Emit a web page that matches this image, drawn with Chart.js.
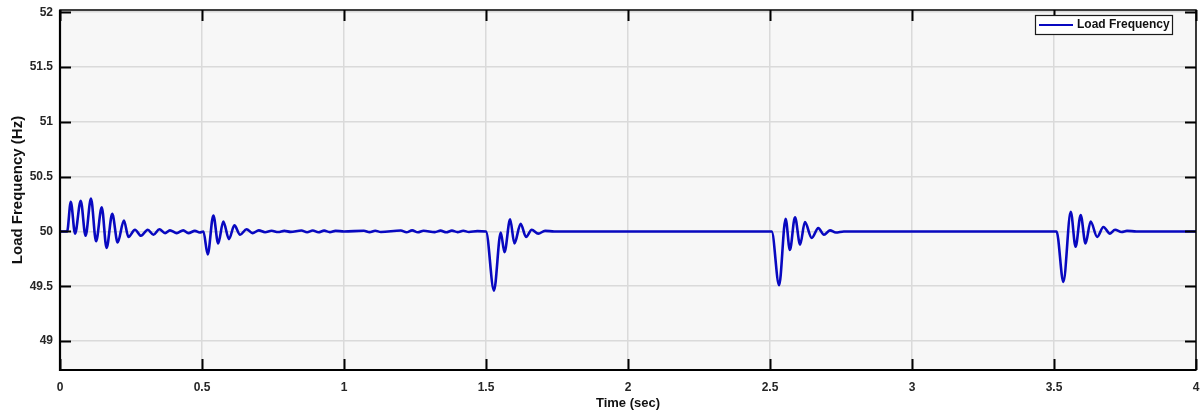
<!DOCTYPE html>
<html>
<head>
<meta charset="utf-8">
<script src="https://cdn.jsdelivr.net/npm/chart.js@4.4.1/dist/chart.umd.min.js"></script>
<style>
  html, body { margin: 0; padding: 0; background: #ffffff; }
  #wrap { width: 1203px; height: 414px; position: relative; }
</style>
</head>
<body>
<div id="wrap"><canvas id="c" width="1203" height="414"></canvas></div>
<script>
// ---- data ----
const seriesLabel = 'Load Frequency';
const xAxisTitle = 'Time (sec)';
const yAxisTitle = 'Load Frequency (Hz)';

const timeSec = [
  0, 0.025, 0.038, 0.053, 0.073, 0.090, 0.109, 0.127, 0.147, 0.164,
  0.184, 0.203, 0.225, 0.241, 0.264, 0.285, 0.309, 0.329, 0.350, 0.370,
  0.387, 0.411, 0.434, 0.452, 0.475, 0.492, 0.505,
  0.520, 0.540, 0.557, 0.575, 0.595, 0.614, 0.634, 0.657, 0.678, 0.700,
  0.722, 0.745, 0.768, 0.790, 0.812, 0.850, 0.870, 0.890, 0.910, 0.930,
  0.950, 0.970, 1.000, 1.070, 1.090, 1.110, 1.130, 1.200, 1.220, 1.240,
  1.260, 1.280, 1.320, 1.340, 1.360, 1.380, 1.400, 1.420, 1.440, 1.470, 1.500,
  1.528, 1.552, 1.565, 1.585, 1.600, 1.622, 1.641, 1.661, 1.684, 1.708, 1.740,
  2.000, 2.506,
  2.532, 2.555, 2.570, 2.588, 2.606, 2.623, 2.647, 2.670, 2.690, 2.711, 2.732, 2.760,
  3.000, 3.509,
  3.533, 3.559, 3.576, 3.594, 3.611, 3.629, 3.652, 3.674, 3.697, 3.715, 3.738, 3.757, 3.790,
  4.000
];
const loadFreqHz = [
  50.0, 50.0, 50.27, 49.98, 50.28, 49.96, 50.30, 49.91, 50.22, 49.85,
  50.16, 49.90, 50.10, 49.95, 50.015, 49.96, 50.015, 49.97, 50.02, 49.985,
  50.01, 49.985, 50.01, 49.985, 50.005, 49.99, 50.0,
  49.79, 50.146, 49.89, 50.09, 49.93, 50.055, 49.97, 50.02, 49.985, 50.01,
  49.993, 50.006, 49.995, 50.005, 49.996, 50.008, 49.993, 50.008, 49.993, 50.007,
  49.994, 50.005, 50.0, 50.006, 49.994, 50.006, 49.995, 50.008, 49.992, 50.01,
  49.992, 50.006, 49.994, 50.007, 49.993, 50.007, 49.994, 50.006, 49.995, 50.003, 50.0,
  49.46, 49.99, 49.81, 50.11, 49.89, 50.07, 49.95, 50.015, 49.98, 50.005, 50.0,
  50.0, 50.0,
  49.51, 50.115, 49.83, 50.13, 49.88, 50.085, 49.94, 50.03, 49.97, 50.01, 49.99, 50.0,
  50.0, 50.0,
  49.54, 50.18, 49.86, 50.15, 49.89, 50.09, 49.95, 50.04, 49.98, 50.015, 49.995, 50.005, 50.0,
  50.0
];

const xTicks = [0, 0.5, 1, 1.5, 2, 2.5, 3, 3.5, 4];
const xTickLabels = ['0', '0.5', '1', '1.5', '2', '2.5', '3', '3.5', '4'];
const yTicks = [49, 49.5, 50, 50.5, 51, 51.5, 52];
const yTickLabels = ['49', '49.5', '50', '50.5', '51', '51.5', '52'];

// ---- styles ----
const FONT = 'Arial, "Liberation Sans", Helvetica, sans-serif';
const LINE_COLOR = '#0808c0';

const points = timeSec.map((t, i) => ({ x: t, y: loadFreqHz[i] }));

const plotBg = {
  id: 'plotBg',
  beforeDraw(chart) {
    const { ctx, chartArea: a } = chart;
    ctx.save();
    ctx.fillStyle = '#f7f7f7';
    ctx.fillRect(a.left, a.top, a.right - a.left, a.bottom - a.top);
    ctx.restore();
  }
};

const frameTicks = {
  id: 'frameTicks',
  afterDatasetsDraw(chart) {
    const { ctx, chartArea: a, scales } = chart;
    const xs = scales.x, ys = scales.y;
    const L = 11;
    ctx.save();
    ctx.strokeStyle = '#000';
    ctx.lineWidth = 2;
    ctx.beginPath();
    xTicks.forEach(v => {
      const px = Math.round(xs.getPixelForValue(v)) + 0.5;
      ctx.moveTo(px, a.bottom); ctx.lineTo(px, a.bottom - L);
      ctx.moveTo(px, a.top); ctx.lineTo(px, a.top + L);
    });
    yTicks.forEach(v => {
      const py = Math.round(ys.getPixelForValue(v)) + 0.5;
      ctx.moveTo(a.left, py); ctx.lineTo(a.left + L, py);
      ctx.moveTo(a.right, py); ctx.lineTo(a.right - L, py);
    });
    ctx.stroke();
    // frame
    ctx.lineWidth = 1.5;
    ctx.strokeRect(a.left, a.top, a.right - a.left, a.bottom - a.top);
    ctx.lineWidth = 2.2;
    ctx.beginPath();
    ctx.moveTo(a.left, a.top); ctx.lineTo(a.left, a.bottom); ctx.lineTo(a.right, a.bottom);
    ctx.stroke();
    ctx.restore();
  }
};

const boxLegend = {
  id: 'boxLegend',
  afterDraw(chart) {
    const { ctx, chartArea: a } = chart;
    const ds = chart.data.datasets[0];
    const w = 137, h = 19;
    const x0 = a.right - 24 - w, y0 = a.top + 5;
    ctx.save();
    ctx.fillStyle = '#ffffff';
    ctx.fillRect(x0, y0, w, h);
    ctx.strokeStyle = '#1a1a1a';
    ctx.lineWidth = 1.2;
    ctx.strokeRect(x0 + 0.5, y0 + 0.5, w, h);
    const cy = y0 + h / 2 + 0.5;
    ctx.strokeStyle = ds.borderColor;
    ctx.lineWidth = 2;
    ctx.beginPath();
    ctx.moveTo(x0 + 4, cy); ctx.lineTo(x0 + 38, cy);
    ctx.stroke();
    ctx.fillStyle = '#111';
    ctx.font = 'bold 12px ' + FONT;
    ctx.textBaseline = 'middle';
    ctx.textAlign = 'left';
    ctx.fillText(ds.label, x0 + 42, cy);
    ctx.restore();
  }
};

new Chart(document.getElementById('c'), {
  type: 'line',
  data: {
    datasets: [{
      label: seriesLabel,
      data: points,
      borderColor: LINE_COLOR,
      backgroundColor: LINE_COLOR,
      borderWidth: 2.6,
      pointRadius: 0,
      fill: false,
      cubicInterpolationMode: 'monotone'
    }]
  },
  options: {
    responsive: false,
    animation: false,
    devicePixelRatio: 1,
    layout: { padding: { left: 0, right: 7, top: 10, bottom: 0 } },
    plugins: {
      legend: { display: false },
      tooltip: { enabled: false }
    },
    scales: {
      x: {
        type: 'linear',
        min: 0, max: 4,
        afterBuildTicks: s => { s.ticks = xTicks.map(v => ({ value: v })); },
        afterFit: s => { s.height = 44; s.paddingLeft = 0; s.paddingRight = 0; },
        ticks: {
          autoSkip: false, maxRotation: 0, padding: 10,
          color: '#262626',
          font: { family: FONT, size: 12, weight: 'bold' },
          callback: (v) => { const i = xTicks.indexOf(v); return i >= 0 ? xTickLabels[i] : ''; }
        },
        grid: { color: '#dadada', lineWidth: 1.5, drawTicks: false },
        border: { display: false },
        title: {
          display: true, text: xAxisTitle, color: '#111',
          font: { family: FONT, size: 13, weight: 'bold' },
          padding: { top: 0, bottom: 3 }
        }
      },
      y: {
        type: 'linear',
        min: 48.736, max: 52.02,
        afterBuildTicks: s => { s.ticks = yTicks.map(v => ({ value: v })); },
        afterFit: s => { s.width = 60; s.paddingTop = 0; s.paddingBottom = 0; },
        ticks: {
          autoSkip: false, padding: 7,
          color: '#262626',
          font: { family: FONT, size: 12, weight: 'bold' },
          callback: (v) => { const i = yTicks.indexOf(v); return i >= 0 ? yTickLabels[i] : ''; }
        },
        grid: { color: '#dadada', lineWidth: 1.5, drawTicks: false },
        border: { display: false },
        title: {
          display: true, text: yAxisTitle, color: '#111',
          font: { family: FONT, size: 15, weight: 'bold' },
          padding: { top: 9, bottom: 0 }
        }
      }
    }
  },
  plugins: [plotBg, frameTicks, boxLegend]
});
</script>
</body>
</html>
